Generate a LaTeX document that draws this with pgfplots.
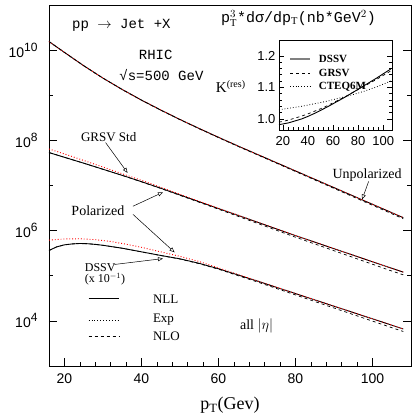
\documentclass[border=0pt]{standalone}
\usepackage{fontspec}
\setmainfont{Liberation Serif}
\setsansfont{Liberation Sans}
\setmonofont{Liberation Mono}
\usepackage{pgfplots}
\pgfplotsset{compat=1.18}
\usetikzlibrary{arrows.meta}
\newcommand{\fs}[1]{\fontsize{#1}{#1}\selectfont}
\newcommand{\tenp}[1]{10\raisebox{0.42em}{\fs{12}#1}}
\begin{document}
\begin{tikzpicture}
\useasboundingbox (-49pt,-54pt) rectangle (366pt,366pt);
\begin{axis}[
  at={(0,0)}, anchor=south west, scale only axis,
  width=362pt, height=361pt,
  xmin=16, xmax=110, ymin=3, ymax=11,
  xtick={20,40,60,80,100}, minor x tick num=4, xtick pos=left,
  ytick={4,6,8,10},
  yticklabels={\tenp{4},\tenp{6},\tenp{8},\tenp{10}},
  extra y ticks={5,7,9}, extra y tick labels={},
  extra y tick style={major tick length=4pt},
  major tick length=8pt, minor tick length=4pt,
  tick align=inside,
  tick style={black, line width=0.6pt},
  axis line style={line width=0.9pt},
  ticklabel style={font=\sffamily\fs{14}},
  /pgf/number format/assume math mode=true,
  yticklabel style={xshift=-8pt},
  xticklabel style={yshift=-4pt},
  xlabel={p$_\mathrm{T}$(Gev)},
  xlabel style={font=\fs{18}, yshift=-7pt},
  clip=false,
]
% Unpolarized
\addplot[black, line width=0.9pt] coordinates {
(16,10.19) (20,9.95) (25,9.655) (30,9.38) (35,9.128) (40,8.893) (45,8.673) (50,8.463) (55,8.263) (60,8.068) (65,7.878) (70,7.693) (75,7.508) (80,7.323) (85,7.138) (90,6.953) (95,6.768) (100,6.583) (105,6.398) (108,6.287)};
\addplot[red, dotted, line width=0.9pt] coordinates {
(16,10.19) (20,9.95) (25,9.655) (30,9.38) (35,9.128) (40,8.893) (45,8.673) (50,8.463) (55,8.263) (60,8.068) (65,7.878) (70,7.693) (75,7.508) (80,7.323) (85,7.138) (90,6.953) (95,6.768) (100,6.583) (105,6.398) (108,6.287)};
\addplot[black, dashed, line width=0.7pt] coordinates {
(16,10.19) (20,9.95) (25,9.655) (30,9.38) (35,9.128) (40,8.891) (45,8.670) (50,8.459) (55,8.258) (60,8.062) (65,7.870) (70,7.684) (75,7.497) (80,7.310) (85,7.123) (90,6.936) (95,6.749) (100,6.562) (105,6.375) (108,6.262)};
% GRSV polarized
\addplot[black, line width=0.9pt] coordinates {
(16,7.73) (20,7.625) (25,7.495) (30,7.36) (35,7.225) (40,7.085) (45,6.94) (50,6.79) (55,6.64) (60,6.49) (65,6.34) (70,6.19) (75,6.04) (80,5.89) (85,5.745) (90,5.60) (95,5.455) (100,5.31) (105,5.165) (108,5.08)};
\addplot[red, dotted, line width=0.9pt] coordinates {
(16,7.81) (20,7.70) (25,7.555) (30,7.41) (35,7.26) (40,7.115) (45,6.96) (50,6.805) (55,6.65) (60,6.497) (65,6.345) (70,6.193) (75,6.042) (80,5.891) (85,5.746) (90,5.601) (95,5.456) (100,5.311) (105,5.166) (108,5.081)};
\addplot[black, dashed, line width=0.7pt] coordinates {
(16,7.73) (20,7.625) (25,7.495) (30,7.36) (35,7.224) (40,7.082) (45,6.935) (50,6.782) (55,6.628) (60,6.475) (65,6.32) (70,6.165) (75,6.01) (80,5.855) (85,5.705) (90,5.555) (95,5.405) (100,5.255) (105,5.105) (108,5.02)};
% DSSV polarized (x 0.1)
\addplot[black, line width=0.9pt] coordinates {
(16,5.56) (18,5.64) (20,5.685) (22,5.705) (24,5.715) (26,5.71) (28,5.695) (30,5.675) (35,5.61) (40,5.53) (45,5.45) (50,5.375) (55,5.275) (60,5.155) (65,5.02) (70,4.885) (75,4.745) (80,4.605) (85,4.465) (90,4.325) (95,4.185) (100,4.045) (105,3.905) (108,3.82)};
\addplot[red, dotted, line width=0.9pt] coordinates {
(16,5.79) (20,5.815) (24,5.82) (28,5.80) (32,5.76) (36,5.70) (40,5.63) (45,5.53) (50,5.43) (55,5.315) (60,5.175) (65,5.03) (70,4.89) (75,4.748) (80,4.607) (85,4.466) (90,4.326) (95,4.186) (100,4.046) (105,3.906) (108,3.821)};
\addplot[black, dashed, line width=0.7pt] coordinates {
(16,5.56) (18,5.64) (20,5.685) (22,5.705) (24,5.715) (26,5.71) (28,5.695) (30,5.675) (35,5.61) (40,5.53) (45,5.448) (50,5.37) (55,5.267) (60,5.145) (65,5.005) (70,4.865) (75,4.72) (80,4.575) (85,4.43) (90,4.285) (95,4.14) (100,3.995) (105,3.85) (108,3.765)};
% legend
\addplot[black, line width=0.9pt] coordinates {(26.3,4.49) (34.1,4.49)};
\addplot[black, dotted, line width=0.9pt] coordinates {(26.3,4.02) (34.1,4.02)};
\addplot[black, dashed, line width=0.7pt] coordinates {(26.3,3.66) (34.1,3.66)};
\node[anchor=west, font=\fs{13}] at (axis cs:42.1,4.49) {NLL};
\node[anchor=west, font=\fs{13}] at (axis cs:42.1,4.02) {Exp};
\node[anchor=west, font=\fs{13}] at (axis cs:42.1,3.66) {NLO};
% texts
\node[font=\ttfamily\fs{14}] at (axis cs:34.8,10.55) {pp $\rightarrow$ Jet +X};
\node[font=\ttfamily\fs{14}] at (axis cs:43.7,9.89) {RHIC};
\node[font=\ttfamily\fs{14}] at (axis cs:45.2,9.45) {√s=500 GeV};
\node[font=\ttfamily\fs{15}] at (axis cs:80.8,10.71) {p$_\mathrm{T}^3$*dσ/dp$_\mathrm{T}$(nb*GeV$^2$)};
\node[font=\fs{15}] at (axis cs:63.2,9.2) {K$^{\mbox{\fs{10}(res)}}$};
\node[font=\fs{13}] at (axis cs:31.5,8.08) {GRSV Std};
\node[font=\fs{14}] at (axis cs:98.6,7.24) {Unpolarized};
\node[font=\fs{14}] at (axis cs:28.7,6.45) {Polarized};
\node[anchor=west, font=\fs{12}] at (axis cs:24.4,5.18) {DSSV};
\node[anchor=west, font=\fs{12}] at (axis cs:24.4,4.92) {(x 10$^{-1}$)};
\node[font=\fs{14}] at (axis cs:69.9,3.89) {$\mathrm{all}\ |\eta|$};
% arrows
\draw[-{Triangle[open,length=5pt,width=4pt]}, line width=0.5pt] (axis cs:30.7,7.95) -- (axis cs:36.4,7.28);
\draw[-{Triangle[open,length=5pt,width=4pt]}, line width=0.5pt] (axis cs:99,7.09) -- (axis cs:97.3,6.69);
\draw[-{Triangle[open,length=5pt,width=4pt]}, line width=0.5pt] (axis cs:37.8,6.54) -- (axis cs:45.6,6.85);
\draw[-{Triangle[open,length=5pt,width=4pt]}, line width=0.5pt] (axis cs:37.8,6.36) -- (axis cs:48.6,5.52);
\draw[-{Triangle[open,length=5pt,width=4pt]}, line width=0.5pt] (axis cs:33,5.25) -- (axis cs:45.6,5.38);
\end{axis}
\begin{axis}[
  at={(230pt,236pt)}, anchor=south west, scale only axis,
  width=113pt, height=90pt,
  xmin=17, xmax=107, ymin=0.965, ymax=1.25,
  xtick={20,40,60,80,100}, minor x tick num=4, xtick pos=left,
  ytick={1.0,1.1,1.2}, yticklabels={1.0,1.1,1.2}, minor y tick num=4,
  major tick length=5pt, minor tick length=3pt,
  tick align=inside,
  tick style={black, line width=0.5pt},
  axis line style={line width=0.7pt},
  axis background/.style={fill=white},
  ticklabel style={font=\sffamily\fs{13}},
  xticklabel style={yshift=-3pt},
  /pgf/number format/assume math mode=true,
  clip=false,
]
\addplot[black, line width=0.9pt] coordinates {
(17,0.982) (20,0.984) (25,0.988) (30,0.994) (35,1.000) (40,1.008) (45,1.017) (50,1.027) (55,1.037) (60,1.048) (65,1.059) (70,1.070) (75,1.082) (80,1.094) (85,1.106) (90,1.118) (95,1.130) (100,1.143) (106,1.158)};
\addplot[black, dashed, line width=0.7pt] coordinates {
(17,0.990) (20,0.992) (25,0.997) (30,1.003) (35,1.009) (40,1.016) (45,1.024) (50,1.032) (55,1.041) (60,1.051) (65,1.061) (70,1.071) (75,1.082) (80,1.093) (85,1.104) (90,1.115) (95,1.126) (100,1.138) (106,1.152)};
\addplot[black, dotted, line width=0.8pt] coordinates {
(17,1.030) (20,1.031) (25,1.034) (30,1.037) (35,1.040) (40,1.044) (45,1.048) (50,1.052) (55,1.056) (60,1.061) (65,1.066) (70,1.071) (75,1.076) (80,1.082) (85,1.088) (90,1.095) (95,1.102) (100,1.110) (106,1.120)};
\addplot[gray, line width=1.3pt] coordinates {(25.8,1.19) (41.7,1.19)};
\addplot[black, dashed, line width=0.7pt] coordinates {(25.8,1.145) (41.7,1.145)};
\addplot[black, dotted, line width=0.8pt] coordinates {(25.8,1.103) (41.7,1.103)};
\node[anchor=west, font=\fs{11}\bfseries] at (axis cs:46,1.19) {DSSV};
\node[anchor=west, font=\fs{11}\bfseries] at (axis cs:46,1.145) {GRSV};
\node[anchor=west, font=\fs{11}\bfseries] at (axis cs:46,1.103) {CTEQ6M};
\end{axis}
\end{tikzpicture}
\end{document}
